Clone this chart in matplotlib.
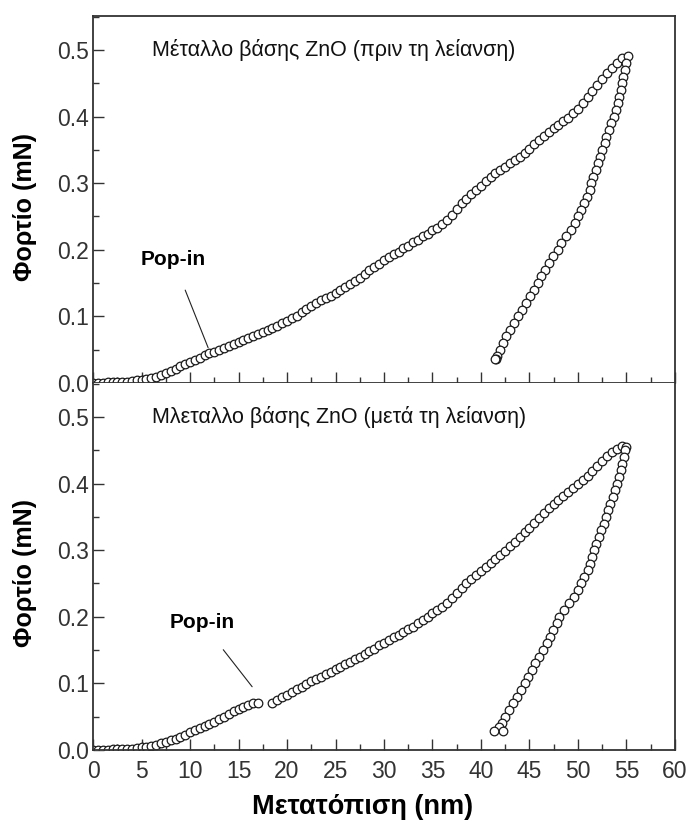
import matplotlib.pyplot as plt
import numpy as np
from matplotlib.ticker import MultipleLocator

# loading branch is sampled every 0.5 nm, 0 .. 54.5 nm
load_depth = np.arange(0, 55.0, 0.5)

# ZnO before polishing: load (mN) on the loading branch
before_load = [
    0.000, 0.000, 0.000, 0.001, 0.001, 0.001, 0.002, 0.002, 0.003, 0.004,
    0.005, 0.006, 0.007, 0.009, 0.012, 0.015, 0.018, 0.021, 0.025, 0.028,
    0.031, 0.035, 0.038, 0.042, 0.045, 0.047, 0.050, 0.053, 0.056, 0.058,
    0.061, 0.064, 0.067, 0.071, 0.074, 0.077, 0.080, 0.083, 0.086, 0.090,
    0.093, 0.097, 0.101, 0.106, 0.111, 0.116, 0.120, 0.124, 0.128, 0.131,
    0.135, 0.139, 0.144, 0.149, 0.153, 0.158, 0.163, 0.169, 0.174, 0.179,
    0.184, 0.189, 0.193, 0.197, 0.202, 0.206, 0.211, 0.215, 0.220, 0.224,
    0.229, 0.233, 0.238, 0.245, 0.252, 0.261, 0.270, 0.277, 0.284, 0.290,
    0.296, 0.303, 0.309, 0.315, 0.320, 0.325, 0.330, 0.335, 0.340, 0.346,
    0.352, 0.359, 0.365, 0.371, 0.377, 0.383, 0.388, 0.393, 0.398, 0.405,
    0.412, 0.421, 0.430, 0.439, 0.448, 0.457, 0.465, 0.473, 0.480, 0.488,
]

# unloading branch, before polishing
before_unload_depth = [
    55.2, 55.0, 54.85, 54.7, 54.5, 54.4, 54.25, 54.1, 53.9, 53.7,
    53.45, 53.2, 52.95, 52.75, 52.5, 52.3, 52.1, 51.85, 51.6, 51.4,
    51.2, 50.9, 50.6, 50.3, 50.0, 49.7, 49.3, 48.8, 48.3, 47.9,
    47.4, 47.0, 46.6, 46.2, 45.85, 45.5, 45.1, 44.6, 44.2, 43.8,
    43.4, 43.0, 42.6, 42.3, 42.0, 41.7, 41.6, 41.5,
]
before_unload_load = [
    0.491, 0.480, 0.470, 0.460, 0.450, 0.440, 0.430, 0.420, 0.410, 0.400,
    0.390, 0.380, 0.370, 0.360, 0.350, 0.340, 0.330, 0.320, 0.310, 0.300,
    0.290, 0.280, 0.270, 0.260, 0.250, 0.240, 0.230, 0.220, 0.210, 0.200,
    0.190, 0.180, 0.170, 0.160, 0.150, 0.140, 0.130, 0.120, 0.110, 0.100,
    0.090, 0.080, 0.070, 0.060, 0.050, 0.040, 0.036, 0.036,
]

# ZnO after polishing: loading branch, gap = pop-in excursion
after_load = [
    0.000, 0.000, 0.000, 0.000, 0.001, 0.001, 0.001, 0.002, 0.002, 0.003,
    0.004, 0.005, 0.006, 0.008, 0.010, 0.012, 0.015, 0.017, 0.020, 0.023,
    0.027, 0.030, 0.033, 0.036, 0.039, 0.042, 0.046, 0.050, 0.054, 0.058,
    0.062, 0.065, 0.068, 0.070, 0.070, np.nan, np.nan, 0.071, 0.075, 0.079,
    0.083, 0.087, 0.091, 0.095, 0.099, 0.103, 0.107, 0.110, 0.114, 0.117,
    0.121, 0.125, 0.129, 0.132, 0.136, 0.140, 0.144, 0.148, 0.152, 0.157,
    0.161, 0.165, 0.169, 0.173, 0.177, 0.181, 0.185, 0.190, 0.195, 0.200,
    0.205, 0.210, 0.215, 0.221, 0.228, 0.235, 0.243, 0.250, 0.257, 0.263,
    0.269, 0.275, 0.281, 0.287, 0.293, 0.299, 0.306, 0.313, 0.320, 0.327,
    0.334, 0.341, 0.349, 0.356, 0.363, 0.370, 0.376, 0.382, 0.388, 0.393,
    0.399, 0.405, 0.412, 0.419, 0.427, 0.434, 0.441, 0.447, 0.452, 0.456,
]

after_unload_depth = [
    55.0, 54.9, 54.75, 54.6, 54.4, 54.25, 54.05, 53.85, 53.6, 53.35,
    53.1, 52.85, 52.65, 52.4, 52.15, 51.9, 51.7, 51.45, 51.25, 51.0,
    50.65, 50.3, 50.0, 49.6, 49.1, 48.6, 48.1, 47.8, 47.45, 47.1,
    46.8, 46.4, 46.0, 45.6, 45.25, 44.9, 44.5, 44.1, 43.7, 43.3,
    42.9, 42.5, 42.15, 41.9, 42.3, 41.3,
]
after_unload_load = [
    0.455, 0.450, 0.440, 0.430, 0.420, 0.410, 0.400, 0.390, 0.380, 0.370,
    0.360, 0.350, 0.340, 0.330, 0.320, 0.310, 0.300, 0.290, 0.280, 0.270,
    0.260, 0.250, 0.240, 0.230, 0.220, 0.210, 0.200, 0.190, 0.180, 0.170,
    0.160, 0.150, 0.140, 0.130, 0.120, 0.110, 0.100, 0.090, 0.080, 0.070,
    0.060, 0.050, 0.040, 0.034, 0.028, 0.028,
]

panel_titles = [
    'Μέταλλο βάσης ZnO (πριν τη λείανση)',
    'Μλεταλλο βάσης ZnO (μετά τη λείανση)',
]

TICK_COLOR = '#333333'
plt.rcParams['font.family'] = ['Liberation Sans', 'DejaVu Sans']

fig, axes = plt.subplots(2, 1, sharex=True, figsize=(6.9, 8.25), dpi=100)
fig.subplots_adjust(left=0.135, right=0.978, top=0.9806, bottom=0.0909, hspace=0)

curves = [
    (before_load, before_unload_depth, before_unload_load),
    (after_load, after_unload_depth, after_unload_load),
]
marker_style = dict(linestyle='none', marker='o', ms=6.2, mfc='white',
                    mec='#1a1a1a', mew=0.9)

for ax, (loading, un_x, un_y), title in zip(axes, curves, panel_titles):
    ax.plot(load_depth, loading, **marker_style)
    ax.plot(un_x, un_y, **marker_style)

    ax.set_xlim(0, 60)
    ax.set_ylim(0, 0.551)
    ax.xaxis.set_major_locator(MultipleLocator(5))
    ax.xaxis.set_minor_locator(MultipleLocator(2.5))
    ax.yaxis.set_major_locator(MultipleLocator(0.1))
    ax.yaxis.set_minor_locator(MultipleLocator(0.05))
    ax.yaxis.set_major_formatter(plt.FormatStrFormatter('%.1f'))
    ax.tick_params(which='both', direction='in', top=False, right=False,
                   colors=TICK_COLOR, labelsize=16.5)
    ax.tick_params(which='major', length=8, width=1.0)
    ax.tick_params(which='minor', length=4, width=1.0)
    ax.tick_params(axis='y', pad=3)
    ax.tick_params(axis='x', pad=7)
    for sp in ax.spines.values():
        sp.set_color('#333333')
        sp.set_linewidth(1.3)

    ax.text(6.1, 0.50, title, ha='left', va='center', fontsize=15.5, color='#111111')

axes[1].spines['top'].set_visible(False)

# pop-in markers
axes[0].annotate('Pop-in', xy=(11.86, 0.053), xytext=(8.25, 0.185),
                 ha='center', va='center', fontsize=15, fontweight='bold',
                 arrowprops=dict(arrowstyle='-', lw=0.8, color='#222222',
                                 shrinkA=14, shrinkB=0))
axes[1].annotate('Pop-in', xy=(16.4, 0.095), xytext=(11.2, 0.192),
                 ha='center', va='center', fontsize=15, fontweight='bold',
                 arrowprops=dict(arrowstyle='-', lw=0.8, color='#222222',
                                 shrinkA=14, shrinkB=0))

label_font = dict(fontsize=18, fontweight='bold')
fig.text(0.036, 0.749, 'Φορτίο (mN)', rotation=90, ha='center', va='center', **label_font)
fig.text(0.036, 0.305, 'Φορτίο (mN)', rotation=90, ha='center', va='center', **label_font)
fig.text(0.526, 0.022, 'Μετατόπιση (nm)', ha='center', va='center', fontsize=19.5,
         fontweight='bold')

fig.savefig('out.png', dpi=100)
